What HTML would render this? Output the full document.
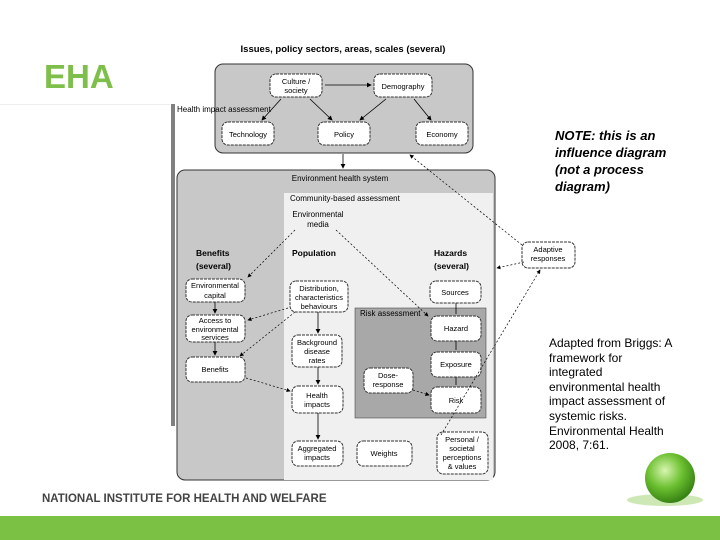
<!DOCTYPE html>
<html><head><meta charset="utf-8"><style>
html,body{margin:0;padding:0;background:#fff}
body{width:720px;height:540px;overflow:hidden;position:relative;font-family:"Liberation Sans",sans-serif}
.t{position:absolute;margin:0}
</style></head><body>
<div class="t" style="left:44px;top:58px;font-size:33px;font-weight:bold;color:#7dbf4a">EHA</div>
<div class="t" style="left:0;top:104px;width:170px;height:1px;background:#eee"></div>
<div class="t" style="left:555px;top:127px;font-size:13px;font-style:italic;font-weight:bold;line-height:17px;color:#000">NOTE: this is an<br>influence diagram<br>(not a process<br>diagram)</div>
<div class="t" style="left:549px;top:336px;font-size:12px;line-height:14.6px;color:#000">Adapted from Briggs: A<br>framework for<br>integrated<br>environmental health<br>impact assessment of<br>systemic risks.<br>Environmental Health<br>2008, 7:61.</div>
<div class="t" style="left:42px;top:493px;font-size:11.5px;font-weight:bold;color:#444">NATIONAL INSTITUTE FOR HEALTH AND WELFARE</div>
<div class="t" style="left:0;top:516px;width:720px;height:24px;background:#7bc143"></div>
<svg width="720" height="540" style="position:absolute;left:0;top:0" font-family="Liberation Sans, sans-serif">
<defs>
<marker id="a" markerWidth="6" markerHeight="6" refX="5" refY="3" orient="auto"><path d="M0,0L6,3L0,6z" fill="#000"/></marker>
<radialGradient id="g" cx="0.4" cy="0.35" r="0.7"><stop offset="0" stop-color="#d8f5b0"/><stop offset="0.5" stop-color="#6cc030"/><stop offset="1" stop-color="#2f7a10"/></radialGradient>
</defs>
<ellipse cx="665" cy="500" rx="38" ry="6" fill="#cde8b5"/>
<circle cx="670" cy="478" r="25" fill="url(#g)"/>
<text x="343" y="52" font-size="9.5" font-weight="bold" text-anchor="middle">Issues, policy sectors, areas, scales (several)</text>
<rect x="215" y="64" width="258" height="89" rx="8" fill="#c8c8c8" stroke="#333"/>
<text x="177" y="112" font-size="8" fill="#000">Health impact assessment</text>
<line x1="172" y1="104" x2="172" y2="426" stroke="#000"/><line x1="174" y1="104" x2="174" y2="426" stroke="#000"/>
<rect x="177" y="170" width="318" height="310" rx="8" fill="#c8c8c8" stroke="#333"/>
<text x="340" y="181" font-size="8" text-anchor="middle">Environment health system</text>
<rect x="284" y="193" width="209" height="287" fill="#f0f0f0"/>
<text x="290" y="201" font-size="8">Community-based assessment</text>
<text x="318" y="217" font-size="8" text-anchor="middle">Environmental</text>
<text x="318" y="227" font-size="8" text-anchor="middle">media</text>
<rect x="355" y="308" width="131" height="110" fill="#a8a8a8" stroke="#333" stroke-width="0.5"/>
<text x="360" y="316" font-size="8">Risk assessment</text>
<g font-size="8.5" font-weight="bold"><text x="196" y="256">Benefits</text><text x="196" y="269">(several)</text><text x="292" y="256">Population</text><text x="434" y="256">Hazards</text><text x="434" y="269">(several)</text></g>
<g fill="#fff" stroke="#333" stroke-dasharray="3,1" >
<rect x="270" y="74" width="52" height="23" rx="6"/><rect x="374" y="74" width="58" height="23" rx="6"/>
<rect x="222" y="122" width="52" height="23" rx="6"/><rect x="318" y="122" width="52" height="23" rx="6"/><rect x="416" y="122" width="52" height="23" rx="6"/>
<rect x="186" y="279" width="59" height="23" rx="6"/><rect x="186" y="315" width="59" height="27" rx="6"/><rect x="186" y="357" width="59" height="25" rx="6"/>
<rect x="290" y="281" width="58" height="31" rx="6"/><rect x="292" y="335" width="50" height="32" rx="6"/><rect x="292" y="386" width="51" height="27" rx="6"/>
<rect x="292" y="441" width="51" height="25" rx="6"/><rect x="357" y="441" width="55" height="25" rx="6"/>
<rect x="430" y="281" width="51" height="22" rx="6"/><rect x="431" y="316" width="50" height="25" rx="6"/><rect x="431" y="352" width="50" height="25" rx="6"/><rect x="431" y="387" width="50" height="26" rx="6"/>
<rect x="364" y="368" width="49" height="25" rx="6"/><rect x="437" y="432" width="51" height="42" rx="6"/><rect x="522" y="242" width="53" height="26" rx="6"/>
</g>
<g font-size="7.5" text-anchor="middle">
<text x="296" y="84">Culture /</text><text x="296" y="93">society</text><text x="403" y="89">Demography</text>
<text x="248" y="137">Technology</text><text x="344" y="137">Policy</text><text x="442" y="137">Economy</text>
<text x="215" y="288">Environmental</text><text x="215" y="298">capital</text>
<text x="215" y="323">Access to</text><text x="215" y="332">environmental</text><text x="215" y="340">services</text>
<text x="215" y="372">Benefits</text>
<text x="319" y="291">Distribution,</text><text x="319" y="300">characteristics</text><text x="319" y="309">behaviours</text>
<text x="317" y="345">Background</text><text x="317" y="354">disease</text><text x="317" y="363">rates</text>
<text x="317" y="398">Health</text><text x="317" y="407">impacts</text>
<text x="317" y="451">Aggregated</text><text x="317" y="460">impacts</text><text x="384" y="456">Weights</text>
<text x="455" y="295">Sources</text><text x="456" y="331">Hazard</text><text x="456" y="367">Exposure</text><text x="456" y="403">Risk</text>
<text x="388" y="378">Dose-</text><text x="388" y="387">response</text>
<text x="462" y="442">Personal /</text><text x="462" y="451">societal</text><text x="462" y="460">perceptions</text><text x="462" y="469">&amp; values</text>
<text x="548" y="252">Adaptive</text><text x="548" y="261">responses</text>
</g>
<g stroke="#000" stroke-width="0.8" fill="none">
<line x1="325" y1="85" x2="371" y2="85" marker-end="url(#a)"/>
<line x1="281" y1="99" x2="262" y2="120" marker-end="url(#a)"/>
<line x1="310" y1="99" x2="332" y2="120" marker-end="url(#a)"/>
<line x1="386" y1="99" x2="360" y2="120" marker-end="url(#a)"/>
<line x1="414" y1="99" x2="431" y2="120" marker-end="url(#a)"/>
<line x1="343" y1="154" x2="343" y2="168" marker-end="url(#a)"/>
<line x1="215" y1="302" x2="215" y2="313" marker-end="url(#a)"/>
<line x1="215" y1="342" x2="215" y2="355" marker-end="url(#a)"/>
<line x1="318" y1="312" x2="318" y2="333" marker-end="url(#a)"/>
<line x1="318" y1="367" x2="318" y2="384" marker-end="url(#a)"/>
<line x1="318" y1="413" x2="318" y2="439" marker-end="url(#a)"/>
<line x1="456" y1="303" x2="456" y2="314"/>
<line x1="456" y1="341" x2="456" y2="350"/>
<line x1="456" y1="377" x2="456" y2="385"/>
</g>
<g stroke="#000" stroke-width="0.7" fill="none" stroke-dasharray="2,2">
<line x1="295" y1="230" x2="248" y2="277" marker-end="url(#a)"/>
<line x1="336" y1="230" x2="428" y2="316" marker-end="url(#a)"/>
<line x1="288" y1="308" x2="248" y2="320" marker-end="url(#a)"/>
<line x1="295" y1="312" x2="240" y2="356" marker-end="url(#a)"/>
<line x1="246" y1="378" x2="290" y2="391" marker-end="url(#a)"/>
<line x1="413" y1="390" x2="429" y2="395" marker-end="url(#a)"/>
<line x1="522" y1="245" x2="410" y2="155" marker-end="url(#a)"/>
<line x1="524" y1="262" x2="497" y2="268" marker-end="url(#a)"/>
<line x1="441" y1="435" x2="540" y2="270" marker-end="url(#a)"/>
</g>
</svg>
</body></html>
